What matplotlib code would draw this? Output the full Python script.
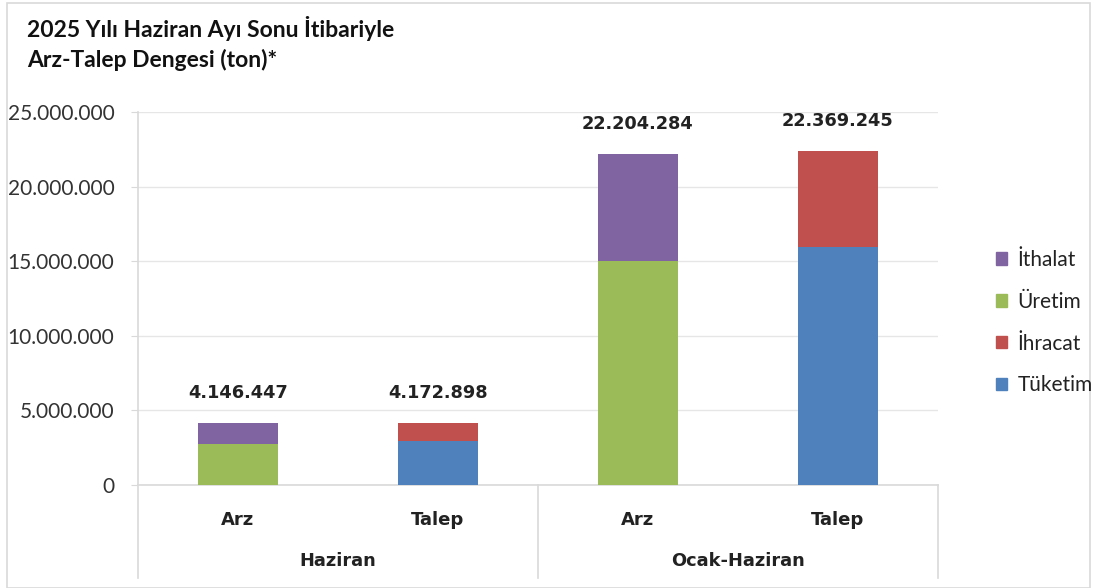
import matplotlib
matplotlib.use("Agg")
import matplotlib.pyplot as plt
import matplotlib.transforms as mtransforms
from matplotlib.patches import Patch, Rectangle

# data
bar_labels = ["Arz", "Talep", "Arz", "Talep"]
groups = ["Haziran", "Ocak-Haziran"]
uretim = [2750000, 0, 15000000, 0]
ithalat = [1396447, 0, 7204284, 0]
tuketim = [0, 2950000, 0, 15950000]
ihracat = [0, 1222898, 0, 6419245]
totals = [4146447, 4172898, 22204284, 22369245]

c_ithalat = "#8064A2"
c_uretim = "#9BBB59"
c_ihracat = "#C0504D"
c_tuketim = "#4F81BD"

fig = plt.figure(figsize=(10.94, 5.88), dpi=100)
ax = fig.add_axes([0.1261, 0.1752, 0.7313, 0.6344])

x = list(range(len(bar_labels)))
w = 0.4
ax.bar(x, uretim, w, color=c_uretim, zorder=3)
ax.bar(x, ithalat, w, bottom=uretim, color=c_ithalat, zorder=3)
ax.bar(x, tuketim, w, color=c_tuketim, zorder=3)
ax.bar(x, ihracat, w, bottom=tuketim, color=c_ihracat, zorder=3)

def fmt(v):
    return f"{v:,}".replace(",", ".")

for xi, t in zip(x, totals):
    ax.annotate(fmt(t), (xi, t), xytext=(0, 15), textcoords="offset points",
                ha="center", va="bottom", fontsize=12.8, fontweight="bold",
                family="DejaVu Sans", color="#222222")

ax.set_xlim(-0.5, 3.5)
ax.set_ylim(0, 25000000)
ax.set_yticks(range(0, 25000001, 5000000))
ax.set_yticklabels([fmt(v) for v in range(0, 25000001, 5000000)],
                   fontsize=15, family="Lato", color="#333333")
ax.tick_params(axis="y", length=5, color="#d9d9d9", pad=12)
ax.yaxis.grid(True, color="#e6e6e6", linewidth=1, zorder=0)

ax.set_xticks(x)
ax.set_xticklabels(bar_labels, fontsize=13, fontweight="bold",
                   family="DejaVu Sans", color="#222222")
ax.tick_params(axis="x", length=0, pad=19)

for s in ["top", "right"]:
    ax.spines[s].set_visible(False)
ax.spines["left"].set_color("#d9d9d9")
ax.spines["bottom"].set_color("#d9d9d9")
ax.spines["left"].set_linewidth(1.2)
ax.spines["bottom"].set_linewidth(1.2)

# group separators and group labels below the axis
trans = mtransforms.blended_transform_factory(ax.transData, ax.transAxes)
for xs in [-0.5, 1.5, 3.5]:
    ax.plot([xs, xs], [0, -0.25], transform=trans, color="#d9d9d9",
            linewidth=1.2, clip_on=False)
for gi, g in enumerate(groups):
    ax.text(gi * 2 + 0.5, -0.205, g, transform=trans, ha="center", va="center",
            fontsize=12.8, fontweight="bold", family="DejaVu Sans", color="#222222")

handles = [Patch(color=c_ithalat, label="İthalat"),
           Patch(color=c_uretim, label="Üretim"),
           Patch(color=c_ihracat, label="İhracat"),
           Patch(color=c_tuketim, label="Tüketim")]
fig.legend(handles=handles, loc="upper left", bbox_to_anchor=(0.893, 0.607),
           frameon=False, prop={"family": "Lato", "size": 15},
           handlelength=0.55, handleheight=0.55, handletextpad=0.5,
           labelspacing=1.05, labelcolor="#222222")

fig.text(0.025, 0.972, "2025 Yılı Haziran Ayı Sonu İtibariyle\nArz-Talep Dengesi (ton)*",
         ha="left", va="top", fontsize=16.5, fontweight="bold", family="Lato",
         linespacing=1.4, color="#111111")

fig.patches.append(Rectangle((0.006, 0.0), 0.99, 0.995, transform=fig.transFigure,
                             fill=False, edgecolor="#d9d9d9", linewidth=1.2))

fig.savefig("out.png", dpi=100)
